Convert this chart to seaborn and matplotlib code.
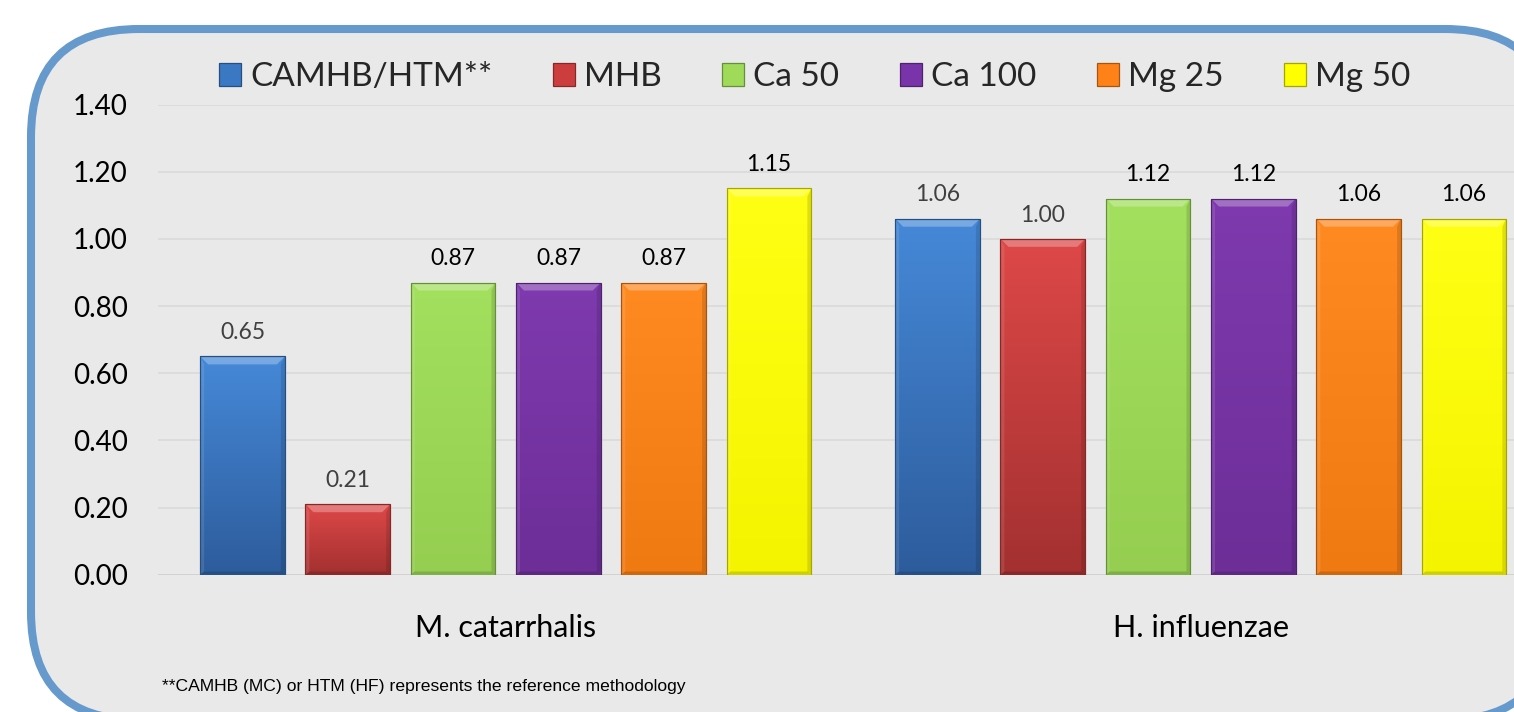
import numpy as np
import pandas as pd
import matplotlib
matplotlib.use("Agg")
import matplotlib.pyplot as plt
import seaborn as sns
from matplotlib.patches import FancyBboxPatch, Polygon, Rectangle, Patch
from matplotlib.colors import to_rgb

# ---- data -------------------------------------------------------------
organisms = ["M. catarrhalis", "H. influenzae"]
media = ["CAMHB/HTM**", "MHB", "Ca 50", "Ca 100", "Mg 25", "Mg 50"]
mc_values = [0.65, 0.21, 0.87, 0.87, 0.87, 1.15]
hi_values = [1.06, 1.00, 1.12, 1.12, 1.06, 1.06]
y_ticks = [0.0, 0.2, 0.4, 0.6, 0.8, 1.0, 1.2, 1.4]
footnote = "**CAMHB (MC) or HTM (HF) represents the reference methodology"

# ---- styling ----------------------------------------------------------
base_colors = ["#3B78C4", "#CC3E3E", "#9FDB59", "#7834A8", "#FF8218", "#FFFF00"]
top_colors = ["#4689D8", "#DE4848", "#A3E05E", "#7E3AAE", "#FF8A22", "#FFFF14"]
bottom_colors = ["#2D5C9C", "#A33030", "#95CE50", "#6D2E98", "#F07A12", "#F4F400"]
label_colors = ["#404040", "#404040", "black", "black", "black", "black"]


def shade(color, t):
    """Blend a colour toward black (t>0) or white (t<0)."""
    c = np.array(to_rgb(color))
    target = np.zeros(3) if t > 0 else np.ones(3)
    t = abs(t)
    return tuple(c * (1 - t) + target * t)


df = pd.DataFrame({
    "organism": np.repeat(organisms, len(media)),
    "medium": media * len(organisms),
    "value": mc_values + hi_values,
})

sns.set_theme(style="white")
plt.rcParams["font.family"] = ["Lato", "DejaVu Sans"]

W, H = 1514, 712
fig = plt.figure(figsize=(W / 100, H / 100), dpi=100)
fig.patch.set_facecolor("white")

# rounded chart frame drawn in a pixel-space background axes
bg = fig.add_axes([0, 0, 1, 1], zorder=0)
bg.set_xlim(0, W)
bg.set_ylim(H, 0)
bg.axis("off")
bg.add_patch(FancyBboxPatch((31, 29), 1553 - 31, 720 - 29,
                            boxstyle="round,pad=0,rounding_size=108",
                            facecolor="#E9E9E9", edgecolor="#6699CC",
                            linewidth=5.8))

# plot area (the right half of the second group runs to the figure edge)
x_left, x_right = 158.25, 1548.25
y_top, y_bottom = 104.5, 574.7
ax = fig.add_axes([x_left / W, (H - y_bottom) / H,
                   (x_right - x_left) / W, (y_bottom - y_top) / H], zorder=1)
ax.patch.set_alpha(0)

sns.barplot(data=df, x="organism", y="value", hue="medium",
            order=organisms, hue_order=media, palette=base_colors,
            saturation=1, width=0.909, gap=0.195, errorbar=None,
            legend=False, ax=ax, zorder=2)

ax.set_xlim(-0.5, 1.5)
ax.set_ylim(0, 1.4)

px_x = ax.transData.transform((1, 0))[0] - ax.transData.transform((0, 0))[0]
px_y = ax.transData.transform((0, 1))[1] - ax.transData.transform((0, 0))[1]
bev_x = 8 / px_x
bev_y = 8 / px_y

ramp = np.linspace(0, 1, 256)[:, None, None]
for i, container in enumerate(ax.containers):
    top_c = np.array(to_rgb(top_colors[i]))
    bot_c = np.array(to_rgb(bottom_colors[i]))
    grad = top_c * (1 - ramp) + bot_c * ramp
    for bar in container:
        x0, w, h = bar.get_x(), bar.get_width(), bar.get_height()
        x1 = x0 + w
        im = ax.imshow(grad, extent=(x0, x1, 0, h), origin="upper",
                       aspect="auto", interpolation="bilinear", zorder=2.1)
        im.set_clip_path(bar)
        bx = min(bev_x, w / 2)
        by = min(bev_y, h / 2)
        # bevel facets: light top, soft left, dark right and bottom
        facets = [
            ([(x0, h), (x1, h), (x1 - bx, h - by), (x0 + bx, h - by)], "white", 0.28),
            ([(x0, 0), (x0, h), (x0 + bx * 0.5, h - by), (x0 + bx * 0.5, by * 0.4)], "white", 0.10),
            ([(x1, 0), (x1, h), (x1 - bx * 0.5, h - by), (x1 - bx * 0.5, by * 0.4)], "black", 0.12),
            ([(x0, 0), (x1, 0), (x1 - bx * 0.5, by * 0.4), (x0 + bx * 0.5, by * 0.4)], "black", 0.15),
        ]
        for pts, col, alpha in facets:
            ax.add_patch(Polygon(pts, closed=True, facecolor=col, alpha=alpha,
                                 linewidth=0, zorder=2.2))
        ax.add_patch(Rectangle((x0, 0), w, h, fill=False,
                               edgecolor=shade(base_colors[i], 0.35),
                               linewidth=0.9, zorder=2.3))
    ax.bar_label(container, fmt="%.2f", padding=9.5, fontsize=16.5,
                 color=label_colors[i], zorder=3)

ax.set_xlim(-0.5, 1.5)
ax.set_ylim(0, 1.4)

# axes, ticks and gridlines
ax.set_yticks(y_ticks)
ax.set_yticklabels([f"{v:.2f}" for v in y_ticks])
ax.tick_params(axis="y", length=0, pad=22, labelsize=20, labelcolor="black")
ax.tick_params(axis="x", length=0, pad=28, labelsize=22, labelcolor="black")
ax.set_xlabel("")
ax.set_ylabel("")
for spine in ax.spines.values():
    spine.set_visible(False)
ax.set_axisbelow(True)
ax.grid(axis="y", color="#D9D9D9", linewidth=1.1)
ax.grid(axis="x", visible=False)
ax.axhline(0, color="#D2D2D2", linewidth=1.3, zorder=1.5)

# legend across the top of the frame
handles = [Patch(facecolor=c, edgecolor=shade(c, 0.35), linewidth=0.9)
           for c in base_colors]
fig.legend(handles, media, loc="center left",
           bbox_to_anchor=(219 / W, 1 - 77 / H), ncol=len(media),
           frameon=False, fontsize=24, handlelength=0.66, handleheight=0.66,
           handletextpad=0.27, columnspacing=1.82, borderpad=0,
           borderaxespad=0)

fig.text(162 / W, 1 - 691 / H, footnote, fontsize=12.6,
         family=["Liberation Sans", "DejaVu Sans"], color="black",
         ha="left", va="baseline")

fig.savefig("out.png", dpi=100)
